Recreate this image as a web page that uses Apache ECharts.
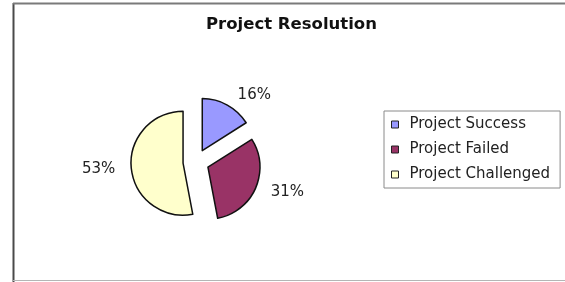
<!DOCTYPE html>
<html>
<head>
<meta charset="utf-8">
<script src="https://cdn.jsdelivr.net/npm/echarts@6/dist/echarts.min.js"></script>
<style>
  html, body { margin: 0; padding: 0; background: #fff; }
  #chart { width: 565px; height: 282px; }
</style>
</head>
<body>
<div id="chart"></div>
<script>
const categories = ['Project Success', 'Project Failed', 'Project Challenged'];
const shares = [16, 31, 53];
const colors = ['#9999ff', '#993366', '#ffffcc'];

const chart = echarts.init(document.getElementById('chart'));

chart.setOption({
  backgroundColor: '#fff',
  animation: false,
  textStyle: { fontFamily: 'DejaVu Sans' },
  title: {
    text: 'Project Resolution',
    left: 206,
    top: 16,
    padding: 0,
    textStyle: { fontSize: 16.5, fontWeight: 'bold', color: '#111', fontFamily: 'DejaVu Sans' }
  },
  legend: {
    orient: 'vertical',
    left: 384,
    top: 111,
    width: 170,
    padding: [6, 10, 6, 7],
    itemGap: 10,
    itemWidth: 7,
    itemHeight: 7,
    icon: 'rect',
    selectedMode: false,
    borderColor: '#8a8a8a',
    borderWidth: 1,
    backgroundColor: '#fff',
    itemStyle: { borderColor: '#222', borderWidth: 1 },
    textStyle: { fontSize: 15, color: '#222', padding: [0, 0, 0, 6] },
    data: categories
  },
  graphic: [
    { type: 'line', shape: { x1: 13.5, y1: 3, x2: 13.5, y2: 282 }, style: { stroke: '#4a4a4a', lineWidth: 2 } },
    { type: 'line', shape: { x1: 13, y1: 3.5, x2: 565, y2: 3.5 }, style: { stroke: '#7a7a7a', lineWidth: 2 } },
    { type: 'line', shape: { x1: 13, y1: 280.5, x2: 565, y2: 280.5 }, style: { stroke: '#b5b5b5', lineWidth: 1 } }
  ],
  series: [
    {
      type: 'pie',
      center: [196, 162],
      radius: 52,
      startAngle: 90,
      clockwise: true,
      selectedMode: 'multiple',
      selectedOffset: 13,
      avoidLabelOverlap: false,
      itemStyle: { borderColor: '#111', borderWidth: 1.5 },
      emphasis: { disabled: true },
      label: {
        show: true,
        position: 'outside',
        formatter: '{c}%',
        fontSize: 15,
        color: '#222',
        fontFamily: 'DejaVu Sans'
      },
      labelLine: { show: false, length: 11, length2: 0 },
      data: categories.map((name, i) => ({
        name: name,
        value: shares[i],
        selected: true,
        itemStyle: { color: colors[i] }
      }))
    }
  ]
});
</script>
</body>
</html>
